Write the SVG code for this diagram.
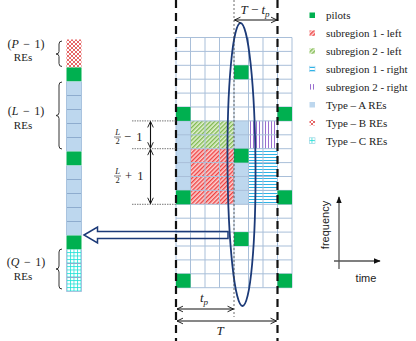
<svg xmlns="http://www.w3.org/2000/svg" width="416" height="341" viewBox="0 0 416 341">
<style>
.serif{font-family:"Liberation Serif","DejaVu Serif",serif;fill:#222}
.sans{font-family:"Liberation Sans","DejaVu Sans",sans-serif;fill:#222}
.it{font-style:italic}
.pilot{fill:#00b050}
.typeA{fill:#bdd7ee}
.gridln{stroke:#a9bfd9;stroke-width:1;fill:none}
.colsep{stroke:#8eacce;stroke-width:1;fill:none}
.brace{stroke:#333;stroke-width:1;fill:none}
.dash{stroke:#111;stroke-width:2.2;stroke-dasharray:8 5;fill:none}
.dot{stroke:#444;stroke-width:0.8;stroke-dasharray:2 2;fill:none}
.hdot{stroke:#555;stroke-width:0.8;stroke-dasharray:1.5 1;fill:none}
.darr{stroke:#111;stroke-width:1.1;fill:none;marker-start:url(#ah);marker-end:url(#ah)}
.navy{stroke:#1c3a78;fill:none}
.axis{stroke:#555;stroke-width:1.3;fill:none;marker-end:url(#ax)}
.lbl{font-size:12px}
.res{font-size:11px}
</style>
<defs>
<marker id="ah" viewBox="0 0 10 10" refX="9.5" refY="5" markerWidth="7" markerHeight="8" orient="auto-start-reverse" markerUnits="userSpaceOnUse">
<path d="M1,1 L9.5,5 L1,9" fill="none" stroke="#111" stroke-width="1.3"/>
</marker>
<marker id="ax" viewBox="0 0 10 10" refX="9" refY="5" markerWidth="7" markerHeight="7" orient="auto" markerUnits="userSpaceOnUse">
<path d="M0,1 L10,5 L0,9 Z" fill="#111"/>
</marker>
<pattern id="pRed" width="3" height="3" patternUnits="userSpaceOnUse" patternTransform="rotate(45)">
<rect width="3" height="3" fill="#fcd2d2"/><line x1="0.7" y1="0" x2="0.7" y2="3" stroke="#ee3b3b" stroke-width="1.3"/>
</pattern>
<pattern id="pGreen" width="3" height="3" patternUnits="userSpaceOnUse" patternTransform="rotate(45)">
<rect width="3" height="3" fill="#e4f1d2"/><line x1="0.7" y1="0" x2="0.7" y2="3" stroke="#79b548" stroke-width="1.3"/>
</pattern>
<pattern id="pCyan" width="4" height="3" patternUnits="userSpaceOnUse">
<rect width="4" height="3" fill="#fff"/><line x1="0" y1="1.5" x2="4" y2="1.5" stroke="#2fb3e6" stroke-width="1"/>
</pattern>
<pattern id="pPurple" width="3" height="4" patternUnits="userSpaceOnUse">
<rect width="3" height="4" fill="#fff"/><line x1="1.5" y1="0" x2="1.5" y2="4" stroke="#9a6fd0" stroke-width="1"/>
</pattern>
<pattern id="pB" width="4" height="4" patternUnits="userSpaceOnUse">
<rect width="4" height="4" fill="#fff"/><path d="M0,0 L4,4 M4,0 L0,4" stroke="#e25555" stroke-width="0.9"/>
</pattern>
<pattern id="pC" width="3.5" height="3.5" patternUnits="userSpaceOnUse">
<rect width="3.5" height="3.5" fill="#fff"/><path d="M0.5,0 V3.5 M0,0.5 H3.5" stroke="#1fe0d6" stroke-width="0.8"/>
</pattern>
</defs>

<rect width="416" height="341" fill="#fff"/>

<!-- Left column of REs -->
<g id="re-column">
<rect x="66.5" y="39.5" width="15" height="28" fill="url(#pB)"/>
<rect x="66.5" y="67.5" width="15" height="14" class="pilot"/>
<rect x="66.5" y="81.5" width="15" height="70" class="typeA"/>
<rect x="66.5" y="151.5" width="15" height="14" class="pilot"/>
<rect x="66.5" y="165.5" width="15" height="70" class="typeA"/>
<rect x="66.5" y="235.5" width="15" height="14" class="pilot"/>
<rect x="66.5" y="249.5" width="15" height="42" fill="url(#pC)"/>
<path class="colsep" d="M66.5,95.5H81.5M66.5,109.5H81.5M66.5,123.5H81.5M66.5,137.5H81.5M66.5,179.5H81.5M66.5,193.5H81.5M66.5,207.5H81.5M66.5,221.5H81.5M66.5,263.5H81.5M66.5,277.5H81.5"/>
<path d="M66.5,81.5V151.5M81.5,81.5V151.5M66.5,165.5V235.5M81.5,165.5V235.5M66.5,249.5V291.5M81.5,249.5V291.5M66.5,291.5H81.5" stroke="#a9c3df" stroke-width="1" fill="none"/>
</g>

<g id="label-P">
<path class="brace" d="M62,41 Q59,41 59,44 V51.5 Q59,54 56,54 Q59,54 59,56.5 V63.5 Q59,66.5 62,66.5"/>
<text class="serif lbl" x="26" y="47.5" text-anchor="middle" word-spacing="1.5">(<tspan class="it">P</tspan> − 1)</text>
<text class="serif res" x="23" y="60.5" text-anchor="middle">REs</text>
</g>
<g id="label-L">
<path class="brace" d="M62,82 Q59,82 59,85 V112.5 Q59,115.5 56,115.5 Q59,115.5 59,118.5 V146 Q59,149 62,149"/>
<text class="serif lbl" x="26" y="115" text-anchor="middle" word-spacing="1.5">(<tspan class="it">L</tspan> − 1)</text>
<text class="serif res" x="23" y="129" text-anchor="middle">REs</text>
</g>
<g id="label-Q">
<path class="brace" d="M62,249 Q59,249 59,252 V266 Q59,269 56,269 Q59,269 59,272 V286 Q59,289 62,289"/>
<text class="serif lbl" x="26" y="265.5" text-anchor="middle" word-spacing="1.5">(<tspan class="it">Q</tspan> − 1)</text>
<text class="serif res" x="23" y="280" text-anchor="middle">REs</text>
</g>

<!-- Time-frequency grid -->
<g id="re-grid">
<rect x="176" y="120.9" width="14.5" height="69.5" class="typeA"/>
<rect x="234" y="120.9" width="14.5" height="27.8" class="typeA"/>
<rect x="234" y="162.6" width="14.5" height="41.7" class="typeA"/>
<rect id="sub2-left" x="190.5" y="120.9" width="43.5" height="27.8" fill="url(#pGreen)"/>
<rect id="sub1-left" x="190.5" y="148.7" width="43.5" height="55.6" fill="url(#pRed)"/>
<rect id="sub2-right" x="248.5" y="120.9" width="29" height="27.8" fill="url(#pPurple)"/>
<rect id="sub1-right" x="248.5" y="148.7" width="29" height="55.6" fill="url(#pCyan)"/>
<path class="gridln" d="M176,37.5V287.7M190.5,37.5V287.7M205,37.5V287.7M219.5,37.5V287.7M234,37.5V287.7M248.5,37.5V287.7M263,37.5V287.7M277.5,37.5V287.7M292,37.5V287.7
M176,37.5H292M176,51.4H292M176,65.3H292M176,79.2H292M176,93.1H292M176,107H292M176,120.9H292M176,134.8H292M176,148.7H292M176,162.6H292M176,176.5H292M176,190.4H292M176,204.3H292M176,218.2H292M176,232.1H292M176,246H292M176,259.9H292M176,273.8H292M176,287.7H292"/>
<rect x="176" y="107" width="14.5" height="13.9" class="pilot"/>
<rect x="176" y="190.4" width="14.5" height="13.9" class="pilot"/>
<rect x="176" y="273.8" width="14.5" height="13.9" class="pilot"/>
<rect x="277.5" y="107" width="14.5" height="13.9" class="pilot"/>
<rect x="277.5" y="190.4" width="14.5" height="13.9" class="pilot"/>
<rect x="277.5" y="273.8" width="14.5" height="13.9" class="pilot"/>
<rect x="234" y="65.3" width="14.5" height="13.9" class="pilot"/>
<rect x="234" y="148.7" width="14.5" height="13.9" class="pilot"/>
<rect x="234" y="232.1" width="14.5" height="13.9" class="pilot"/>
</g>

<g id="connectors">
<path class="navy" stroke-width="1.5" fill="#fff" d="M84,235 L97.5,227 V231.5 H228 V238.5 H97.5 V243 Z"/>
<ellipse class="navy" stroke-width="1.8" cx="241.5" cy="164.5" rx="14" ry="141.5" transform="rotate(-0.4 241.5 164.5)"/>
<line class="dash" x1="176" y1="0" x2="176" y2="341"/>
<line class="dash" x1="277.5" y1="0" x2="277.5" y2="341"/>
<line class="dot" x1="234" y1="0" x2="234" y2="317"/>
<line class="hdot" x1="132" y1="120.9" x2="176" y2="120.9"/>
<line class="hdot" x1="132" y1="148.7" x2="176" y2="148.7"/>
<line class="hdot" x1="132" y1="204.3" x2="176" y2="204.3"/>
<line class="darr" x1="150.5" y1="121.5" x2="150.5" y2="148.2"/>
<line class="darr" x1="150.5" y1="149.2" x2="150.5" y2="203.7"/>
<line class="darr" x1="234.5" y1="20" x2="277" y2="20"/>
<line class="darr" x1="177" y1="309" x2="233.5" y2="309"/>
<line class="darr" x1="177" y1="321" x2="276.5" y2="321"/>
</g>

<g id="dim-labels">
<text class="serif it" x="117.5" y="135" font-size="8.5" text-anchor="middle">L</text>
<line x1="114" y1="137" x2="121" y2="137" stroke="#222" stroke-width="0.6"/>
<text class="serif" x="117.5" y="143.5" font-size="8.5" text-anchor="middle">2</text>
<text class="serif" x="124" y="140.5" font-size="12.5" word-spacing="2">− 1</text>
<text class="serif it" x="117.5" y="174" font-size="8.5" text-anchor="middle">L</text>
<line x1="114" y1="176" x2="121" y2="176" stroke="#222" stroke-width="0.6"/>
<text class="serif" x="117.5" y="182.5" font-size="8.5" text-anchor="middle">2</text>
<text class="serif" x="125" y="180" font-size="12.5" word-spacing="2">+ 1</text>
<text class="serif" x="255" y="14" font-size="13" text-anchor="middle"><tspan class="it">T</tspan> − <tspan class="it">t</tspan><tspan class="it" font-size="9" dy="2.5">p</tspan></text>
<text class="serif" x="204" y="302" font-size="13" text-anchor="middle"><tspan class="it">t</tspan><tspan class="it" font-size="9" dy="2.5">p</tspan></text>
<text class="serif it" x="220" y="335" font-size="13" text-anchor="middle">T</text>
</g>

<g id="legend">
<rect x="309.5" y="12.5" width="5.5" height="5.5" class="pilot"/>
<rect x="309.5" y="30.4" width="5.5" height="5.5" fill="url(#pRed)"/>
<rect x="309.5" y="48.3" width="5.5" height="5.5" fill="url(#pGreen)"/>
<rect x="309.5" y="66.2" width="5.5" height="5.5" fill="url(#pCyan)" stroke="#9fd4ee" stroke-width="0.6"/>
<rect x="309.5" y="84.1" width="5.5" height="5.5" fill="url(#pPurple)"/>
<rect x="309.5" y="102" width="5.5" height="5.5" class="typeA"/>
<rect x="309.5" y="119.9" width="5.5" height="5.5" fill="url(#pB)"/>
<rect x="309.5" y="137.8" width="5.5" height="5.5" fill="url(#pC)" stroke="#8fd0e0" stroke-width="0.6"/>
<text class="serif" x="326" y="19" font-size="11">pilots</text>
<text class="serif" x="326" y="37" font-size="11">subregion 1 - left</text>
<text class="serif" x="326" y="55" font-size="11">subregion 2 - left</text>
<text class="serif" x="326" y="73" font-size="11">subregion 1 - right</text>
<text class="serif" x="326" y="91" font-size="11">subregion 2 - right</text>
<text class="serif" x="326" y="109" font-size="11">Type – A REs</text>
<text class="serif" x="326" y="127" font-size="11">Type – B REs</text>
<text class="serif" x="326" y="145" font-size="11">Type – C REs</text>
</g>

<g id="axes">
<line class="axis" x1="339" y1="269" x2="339" y2="197"/>
<line class="axis" x1="334" y1="261" x2="380" y2="261"/>
<text class="sans" x="0" y="0" font-size="11" text-anchor="middle" transform="translate(328.5 225) rotate(-90)">frequency</text>
<text class="sans" x="366" y="282" font-size="11" text-anchor="middle">time</text>
</g>
</svg>
